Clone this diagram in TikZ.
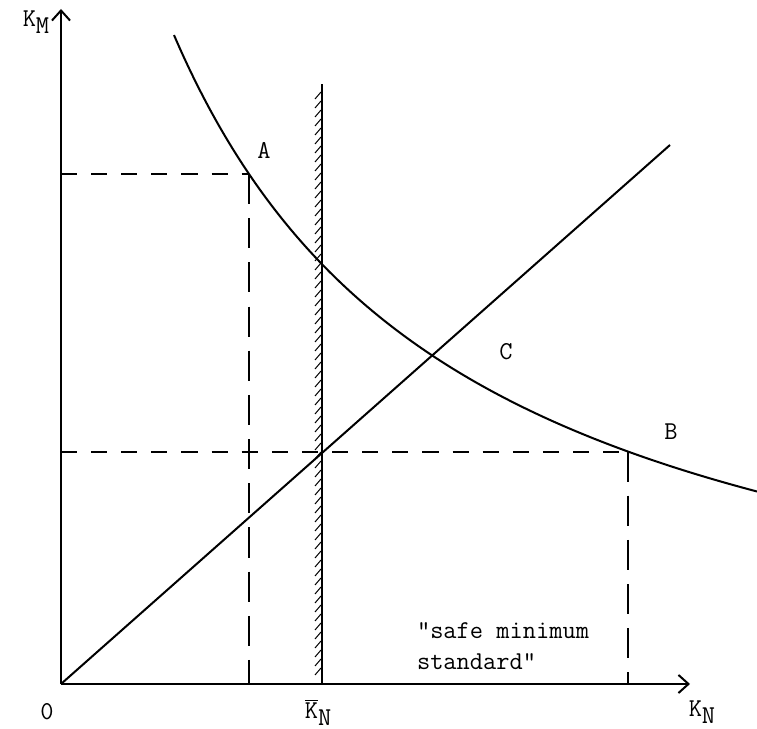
\documentclass[tikz,border=0pt]{standalone}
\usepackage{tikz}
\usetikzlibrary{arrows.meta, calc}

\newcommand{\lowsub}[2]{#1\raisebox{-0.6ex}{#2}}

\tikzset{
  lbl/.style={font=\ttfamily\fontsize{12.8}{15}\selectfont, inner sep=1pt},
  shortdash/.style={dash pattern=on 8pt off 7pt},
  longdash/.style={dash pattern=on 15pt off 7pt}
}

\begin{document}
\begin{tikzpicture}[x=0.0175cm, y=-0.0175cm, line width=1pt]
  \useasboundingbox (0,0) rectangle (757,729);

  % Axes
  \coordinate (O) at (61,684);
  \coordinate (ytop) at (61,9);
  \coordinate (xend) at (690,684);
  \draw[-{Straight Barb[length=5pt, width=9pt]}] (O) -- (ytop);
  \draw[-{Straight Barb[length=5pt, width=9pt]}] (O) -- (xend);
  \node[lbl] (KM) at (36,22) {\lowsub{K}{M}};
  \node[lbl] (KN) at (702,712) {\lowsub{K}{N}};
  \node[lbl] (zero) at (47,712) {0};

  % Indifference curve
  \draw[domain=174:757, samples=80, smooth]
    plot (\x, {724 - 2046/((\x + 123)/100)});
  \coordinate (A) at (249,{724 - 2046/3.72});
  \coordinate (B) at (628,{724 - 2046/7.51});
  \node[lbl] (Alab) at (264,150) {A};
  \node[lbl] (Blab) at (671,432) {B};

  % Ray from the origin
  \coordinate (rayend) at (670,145);
  \draw (O) -- (rayend);
  \node[lbl] (Clab) at (506,352) {C};

  % Safe minimum standard
  \coordinate (Ktop) at (322,84);
  \coordinate (Kbot) at (322,684);
  \draw (Kbot) -- (Ktop);
  \foreach \y in {92,101,...,676}
    \draw[line width=0.5pt] (315,\y+7) -- (321,\y);
  \node[lbl] (Kbar) at (318,712) {$\overline{\hbox{K}}$\raisebox{-0.6ex}{N}};
  \node[lbl, align=left, anchor=north west] (smin) at (414,620)
    {"safe minimum\\standard"};

  % Dashed projections
  \draw[shortdash] (O |- A) -- (A);
  \draw[longdash] (A) -- (A |- O);
  \draw[shortdash] (O |- B) -- (B);
  \draw[longdash] (B) -- (B |- O);
\end{tikzpicture}
\end{document}
